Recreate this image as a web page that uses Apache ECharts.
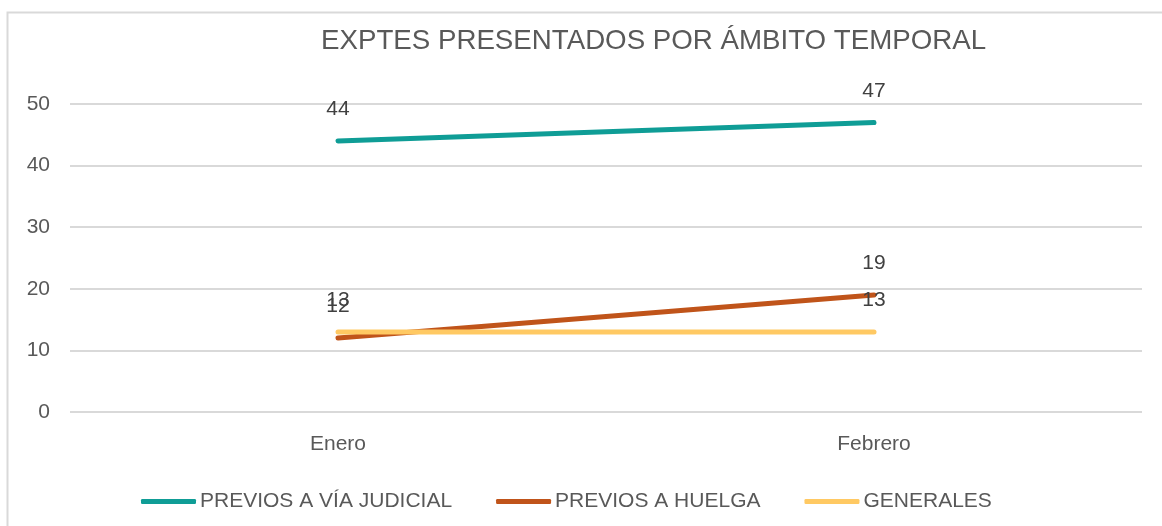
<!DOCTYPE html>
<html>
<head>
<meta charset="utf-8">
<script src="https://cdn.jsdelivr.net/npm/echarts@6/dist/echarts.min.js"></script>
<style>
  html, body { margin: 0; padding: 0; background: #fff; }
  #chart { width: 1162px; height: 526px; }
</style>
</head>
<body>
<div id="chart"></div>
<script>
// datos
var meses = ['Enero', 'Febrero'];
var previosJudicial = [44, 47];
var previosHuelga = [12, 19];
var generales = [13, 13];

var colores = ['#0F9D96', '#C0541A', '#FFC963'];
var fuente = '"Liberation Sans", Arial, sans-serif';
var gris = '#595959';

function serie(nombre, datos, color) {
    return {
        name: nombre,
        type: 'line',
        data: datos,
        symbol: 'circle',
        symbolSize: 2,
        showSymbol: true,
        lineStyle: { width: 5, color: color, cap: 'round' },
        itemStyle: { color: color },
        label: {
            show: true,
            position: 'top',
            distance: 20,
            color: '#404040',
            fontSize: 21,
            fontFamily: fuente
        },
        emphasis: { disabled: true }
    };
}

var myechart = echarts.init(document.getElementById('chart'));
myechart.setOption({
    backgroundColor: '#fff',
    animation: false,
    graphic: [{
        type: 'rect',
        shape: { x: 7.5, y: 12.5, width: 1300, height: 700 },
        style: { fill: 'none', stroke: '#D9D9D9', lineWidth: 2 },
        silent: true
    }],
    title: {
        text: 'EXPTES PRESENTADOS POR ÁMBITO TEMPORAL',
        left: 316,
        top: 22,
        textStyle: { fontFamily: fuente, fontSize: 27.7, fontWeight: 'normal', color: gris }
    },
    grid: { left: 70, right: 20, top: 104, bottom: 114 },
    legend: {
        bottom: 9,
        left: 136,
        icon: 'roundRect',
        itemWidth: 55,
        itemHeight: 5,
        itemGap: 44,
        textStyle: { fontFamily: fuente, fontSize: 21, color: gris, padding: [0, 0, 0, -1] },
        data: ['PREVIOS A VÍA JUDICIAL', 'PREVIOS A HUELGA', 'GENERALES']
    },
    xAxis: {
        type: 'category',
        data: meses,
        boundaryGap: true,
        axisLine: { show: false },
        axisTick: { show: false },
        axisLabel: { margin: 22, fontFamily: fuente, fontSize: 21, color: gris }
    },
    yAxis: {
        type: 'value',
        min: 0,
        max: 50,
        interval: 10,
        axisLine: { show: false },
        axisTick: { show: false },
        axisLabel: { margin: 20, fontFamily: fuente, fontSize: 21, color: gris },
        splitLine: { lineStyle: { color: '#D9D9D9', width: 2 } }
    },
    series: [
        serie('PREVIOS A VÍA JUDICIAL', previosJudicial, colores[0]),
        serie('PREVIOS A HUELGA', previosHuelga, colores[1]),
        serie('GENERALES', generales, colores[2])
    ]
});
</script>
</body>
</html>
